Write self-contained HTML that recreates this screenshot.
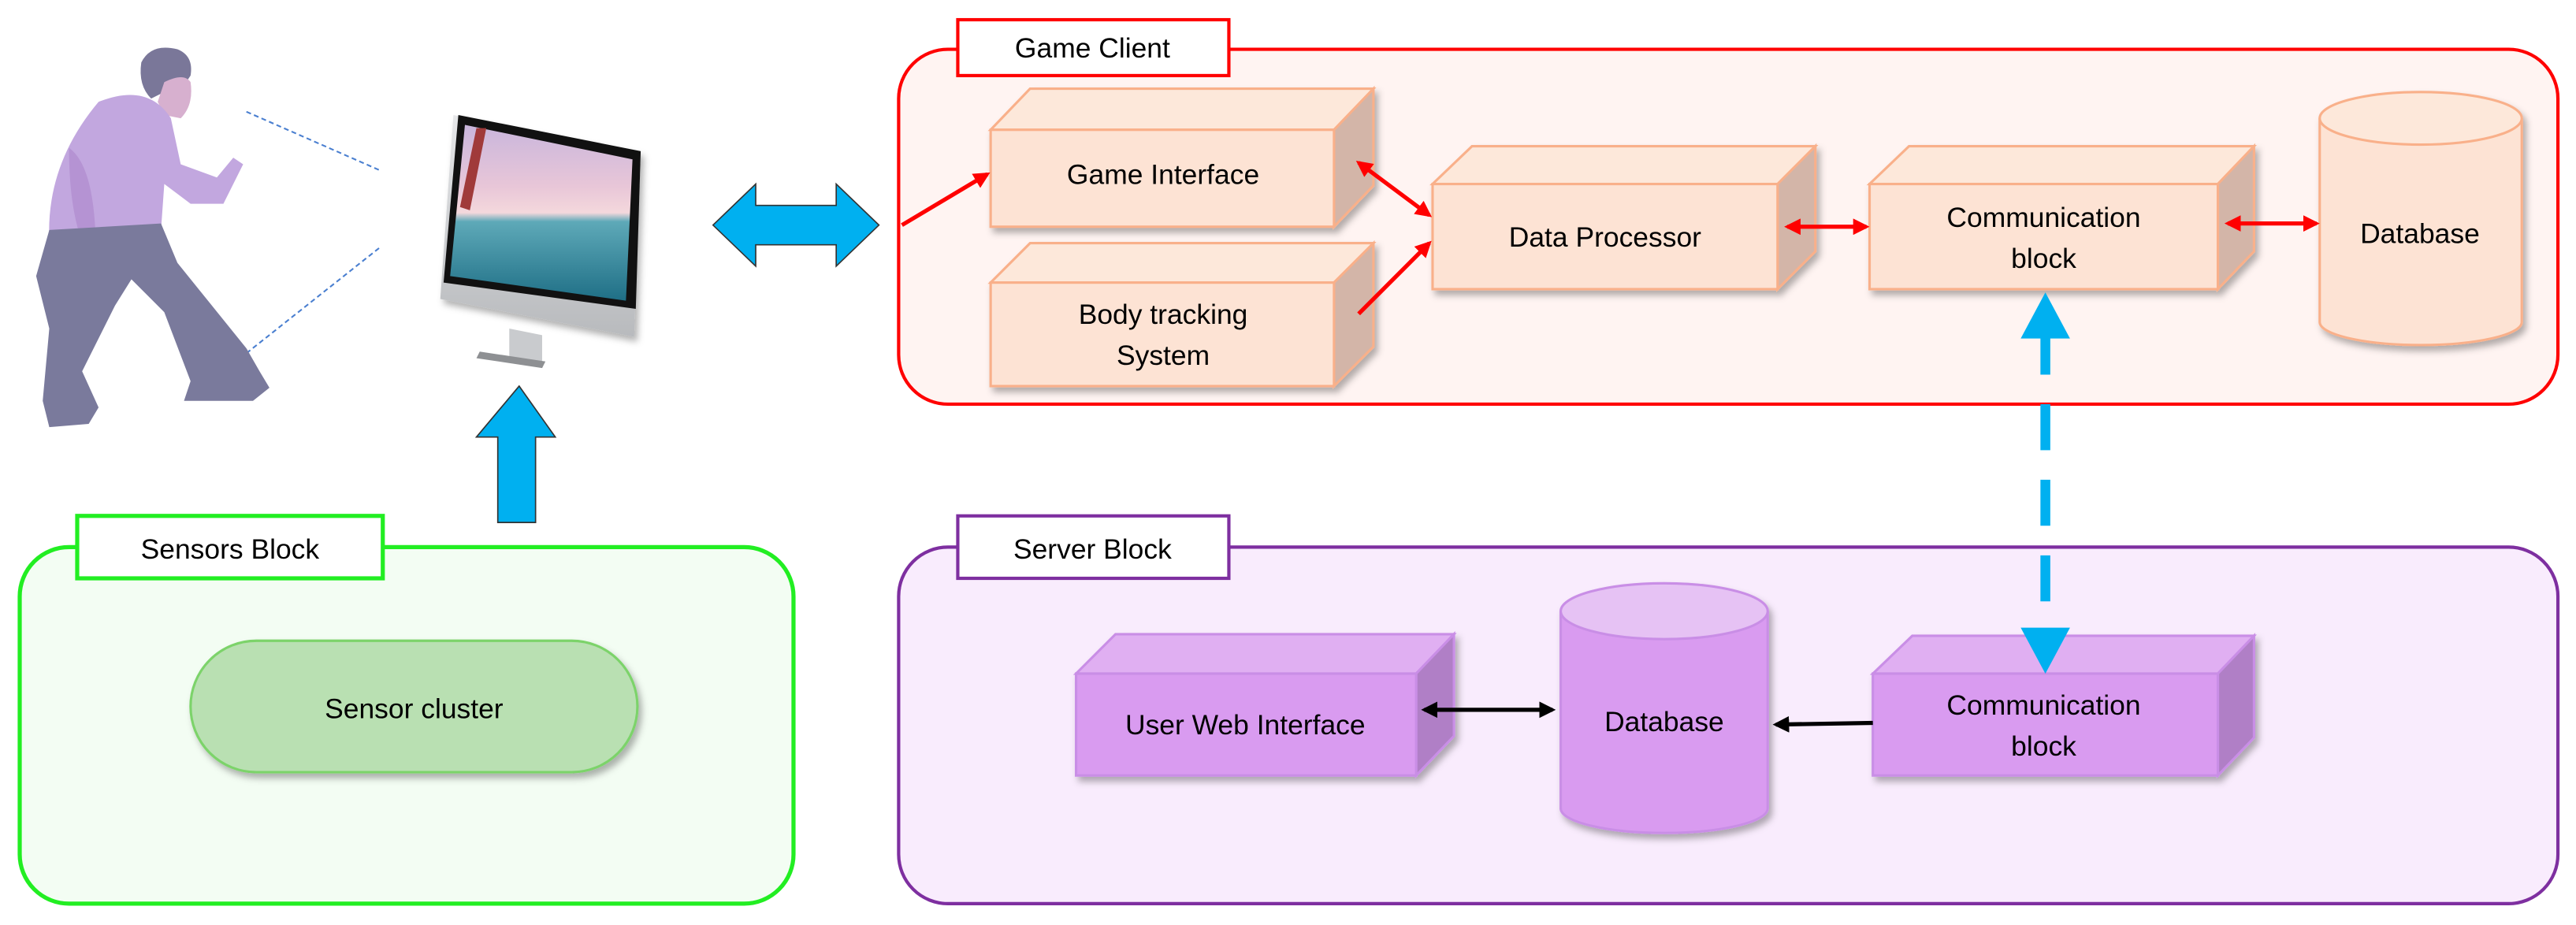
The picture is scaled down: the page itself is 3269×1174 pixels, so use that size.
<!DOCTYPE html>
<html><head><meta charset="utf-8"><style>html,body{margin:0;padding:0;background:#fff}svg{display:block}</style></head>
<body>
<svg width="3269" height="1174" viewBox="0 0 1568 563" preserveAspectRatio="none" xmlns="http://www.w3.org/2000/svg" font-family="Liberation Sans, sans-serif" font-size="17">
<defs>
<marker id="ar" viewBox="0 0 10 10" refX="8" refY="5" markerWidth="4" markerHeight="4" orient="auto-start-reverse"><path d="M0,0L10,5L0,10z" fill="#f00"/></marker>
<marker id="ab" viewBox="0 0 10 10" refX="8" refY="5" markerWidth="4" markerHeight="4" orient="auto-start-reverse"><path d="M0,0L10,5L0,10z" fill="#000"/></marker>
<filter id="sh" x="-10%" y="-10%" width="130%" height="130%"><feDropShadow dx="2" dy="3" stdDeviation="2" flood-opacity="0.3"/></filter>
<linearGradient id="scr" x1="0" y1="0" x2="0" y2="1">
<stop offset="0" stop-color="#c9b6dc"/><stop offset="0.35" stop-color="#e8c6d8"/><stop offset="0.5" stop-color="#f4d8dc"/><stop offset="0.55" stop-color="#5ea9b8"/><stop offset="1" stop-color="#1f6f86"/></linearGradient>
<linearGradient id="sil" x1="0" y1="0" x2="0" y2="1"><stop offset="0" stop-color="#e6e7e9"/><stop offset="1" stop-color="#b8babd"/></linearGradient>
</defs>

<!-- Game Client -->
<rect x="547" y="30" width="1010" height="216" rx="30" fill="#fff4f2" stroke="#f00" stroke-width="2"/>
<rect x="583" y="12" width="165" height="34" fill="#fff" stroke="#f00" stroke-width="2"/>
<text x="665" y="35" text-anchor="middle">Game Client</text>

<g filter="url(#sh)" stroke="#f9b08a" stroke-width="1.5">
<polygon points="603,79 627,54 836,54 812,79" fill="#fde8da"/>
<polygon points="812,79 836,54 836,113 812,138" fill="#d3b5a8"/>
<rect x="603" y="79" width="209" height="59" fill="#fde3d4"/>
<polygon points="603,172 627,148 836,148 812,172" fill="#fde8da"/>
<polygon points="812,172 836,148 836,211 812,235" fill="#d3b5a8"/>
<rect x="603" y="172" width="209" height="63" fill="#fde3d4"/>
<polygon points="872,112 896,89 1105,89 1082,112" fill="#fde8da"/>
<polygon points="1082,112 1105,89 1105,153 1082,176" fill="#d3b5a8"/>
<rect x="872" y="112" width="210" height="64" fill="#fde3d4"/>
<polygon points="1138,112 1162,89 1372,89 1350,112" fill="#fde8da"/>
<polygon points="1350,112 1372,89 1372,153 1350,176" fill="#d3b5a8"/>
<rect x="1138" y="112" width="212" height="64" fill="#fde3d4"/>
<path d="M1412,72 V196 A61.5,14 0 0 0 1535,196 V72" fill="#fde3d4"/>
<ellipse cx="1473.5" cy="72" rx="61.5" ry="16" fill="#fde8da"/>
</g>
<text x="708" y="112" text-anchor="middle">Game Interface</text>
<text x="708" y="197" text-anchor="middle">Body tracking</text>
<text x="708" y="222" text-anchor="middle">System</text>
<text x="977" y="150" text-anchor="middle">Data Processor</text>
<text x="1244" y="138" text-anchor="middle">Communication</text>
<text x="1244" y="163" text-anchor="middle">block</text>
<text x="1473" y="148" text-anchor="middle">Database</text>

<g stroke="#f00" stroke-width="2.5" fill="none">
<line x1="549" y1="137" x2="601" y2="106" marker-end="url(#ar)"/>
<line x1="827" y1="99" x2="870" y2="131" marker-start="url(#ar)" marker-end="url(#ar)"/>
<line x1="827" y1="191" x2="870" y2="148" marker-end="url(#ar)"/>
<line x1="1088" y1="138" x2="1136" y2="138" marker-start="url(#ar)" marker-end="url(#ar)"/>
<line x1="1356" y1="136" x2="1410" y2="136" marker-start="url(#ar)" marker-end="url(#ar)"/>
</g>

<!-- Server Block -->
<rect x="547" y="333" width="1010" height="217" rx="30" fill="#f9ecfd" stroke="#7e2fa0" stroke-width="2"/>
<rect x="583" y="314" width="165" height="38" fill="#fff" stroke="#7e2fa0" stroke-width="2"/>
<text x="665" y="340" text-anchor="middle">Server Block</text>
<g filter="url(#sh)" stroke="#c98ee6" stroke-width="1.5">
<polygon points="655,410 679,386 885,386 862,410" fill="#e0aff2"/>
<polygon points="862,410 885,386 885,448 862,472" fill="#b07fc6"/>
<rect x="655" y="410" width="207" height="62" fill="#d99bf0"/>
<polygon points="1140,410 1164,387 1372,387 1350,410" fill="#e0aff2"/>
<polygon points="1350,410 1372,387 1372,449 1350,472" fill="#b07fc6"/>
<rect x="1140" y="410" width="210" height="62" fill="#d99bf0"/>
<path d="M950,372 V492 A63,15 0 0 0 1076,492 V372" fill="#d99bf0"/>
<ellipse cx="1013" cy="372" rx="63" ry="17" fill="#e6c2f4"/>
</g>
<text x="758" y="447" text-anchor="middle">User Web Interface</text>
<text x="1013" y="445" text-anchor="middle">Database</text>
<text x="1244" y="435" text-anchor="middle">Communication</text>
<text x="1244" y="460" text-anchor="middle">block</text>
<g stroke="#000" stroke-width="2.5">
<line x1="867" y1="432" x2="945" y2="432" marker-start="url(#ab)" marker-end="url(#ab)"/>
<line x1="1140" y1="440" x2="1081" y2="441" marker-end="url(#ab)"/>
</g>

<!-- blue dashed -->
<line x1="1245" y1="200" x2="1245" y2="388" stroke="#00b0f0" stroke-width="6" stroke-dasharray="28,18"/>
<polygon points="1245,178 1230,206 1260,206" fill="#00b0f0"/>
<polygon points="1245,410 1230,382 1260,382" fill="#00b0f0"/>

<!-- Sensors Block -->
<rect x="12" y="333" width="471" height="217" rx="30" fill="#f3fdf3" stroke="#22ee22" stroke-width="2.5"/>
<rect x="47" y="314" width="186" height="38" fill="#fff" stroke="#22ee22" stroke-width="2.5"/>
<text x="140" y="340" text-anchor="middle">Sensors Block</text>
<rect x="116" y="390" width="272" height="80" rx="40" fill="#b9e0b2" stroke="#7cd36a" stroke-width="1.5" filter="url(#sh)"/>
<text x="252" y="437" text-anchor="middle">Sensor cluster</text>

<!-- Blue arrows -->
<polygon points="315,314 315,262 302,262 328,231 350,262 338,262 338,314" fill="#00b0f0" stroke="#333" stroke-width="0.8" transform="translate(-12,4)"/>
<polygon points="434,137 460,112 460,125 509,125 509,112 535,137 509,162 509,149 460,149 460,162" fill="#00b0f0" stroke="#333" stroke-width="0.8"/>

<!-- Monitor -->
<g>
<polygon points="276,70 390,92 386,205 268,182" fill="url(#sil)" filter="url(#sh)"/>
<polygon points="279,70 390,92 387,188 270,172" fill="#111"/>
<polygon points="283,76 385,97 381,183 274,168" fill="url(#scr)"/>
<polygon points="290,78 296,78 286,128 280,126" fill="#a03a3a"/>
<polygon points="310,200 330,204 330,222 310,218" fill="#c9cbce"/>
<polygon points="292,214 332,220 330,224 290,218" fill="#8e9093"/>
</g>

<!-- dotted lines -->
<line x1="150" y1="68" x2="232" y2="104" stroke="#4a7fd0" stroke-width="1" stroke-dasharray="3,2"/>
<line x1="150" y1="215" x2="232" y2="150" stroke="#4a7fd0" stroke-width="1" stroke-dasharray="3,2"/>

<!-- Person -->
<g>
<path d="M86,38 Q92,26 108,30 Q118,34 116,46 L112,52 Q104,48 100,56 L92,60 Q84,52 86,38 Z" fill="#7a7799"/>
<path d="M100,50 Q112,44 116,50 Q118,64 110,72 L100,70 L96,62 Z" fill="#d7b0cf"/>
<path d="M60,62 Q90,50 104,72 L110,100 L132,108 L142,96 L148,100 L136,124 L116,124 L100,112 L98,140 L30,146 Q28,100 60,62 Z" fill="#c2a7df"/>
<path d="M42,90 Q56,100 58,140 L66,160 Q64,168 58,164 L52,152 Q42,130 42,90 Z" fill="#b593d3"/>
<path d="M30,140 L98,136 L108,160 L150,212 L158,226 L164,236 L154,244 L112,244 L116,232 L100,190 L80,170 L70,186 L50,226 L60,248 L54,258 L30,260 L26,244 L30,200 L22,168 Z" fill="#7a7a9c"/>
</g>
</svg>
</body></html>
